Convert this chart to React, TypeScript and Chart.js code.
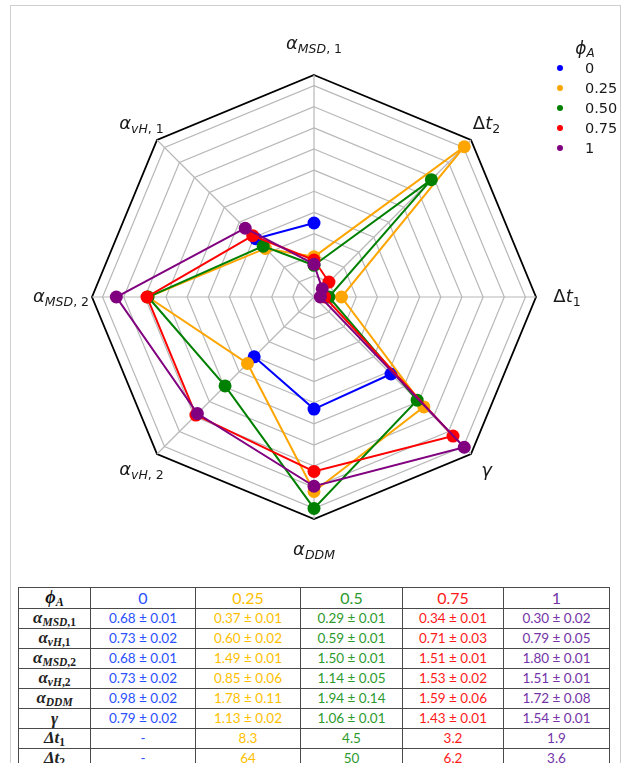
import React, { useEffect, useRef, useState } from 'react';
import { Chart, registerables } from 'chart.js';

Chart.register(...registerables);

// Radar axes in clockwise order starting at the top
const axisLabels = ['α_MSD, 1', 'Δt_2', 'Δt_1', 'γ', 'α_DDM', 'α_vH, 2', 'α_MSD, 2', 'α_vH, 1'];

// Legend / series
const seriesNames = ['0', '0.25', '0.50', '0.75', '1'];
const seriesColors = ['#0000ff', '#ffa500', '#008000', '#ff0000', '#800080'];

// Plotted (normalised) values read from the radar, one per axis above
const phi000 = [0.70, null, null, 1.03, 1.06, 0.80, null, 0.78];
const phi025 = [0.38, 2.01, 0.26, 1.47, 1.84, 0.89, 1.57, 0.65];
const phi050 = [0.30, 1.57, 0.14, 1.38, 2.00, 1.19, 1.57, 0.68];
const phi075 = [0.35, 0.20, 0.10, 1.86, 1.65, 1.58, 1.58, 0.82];
const phi100 = [0.31, 0.11, 0.06, 2.01, 1.79, 1.56, 1.87, 0.92];
const seriesValues = [phi000, phi025, phi050, phi075, phi100];

// Radial rings
const ringValues = [0, 0.2, 0.4, 0.6, 0.8, 1.0, 1.2, 1.4, 1.6, 1.8, 2.0, 2.1];
const radialMax = 2.1;

// Table
const tableHeadLabel = 'ϕ_A';
const tableHeads = ['0', '0.25', '0.5', '0.75', '1'];
const tableRowLabels = ['α_MSD,1', 'α_vH,1', 'α_MSD,2', 'α_vH,2', 'α_DDM', 'γ', 'Δt_1', 'Δt_2'];
const tableCol0 = ['0.68 ± 0.01', '0.73 ± 0.02', '0.68 ± 0.01', '0.73 ± 0.02', '0.98 ± 0.02', '0.79 ± 0.02', '-', '-'];
const tableCol025 = ['0.37 ± 0.01', '0.60 ± 0.02', '1.49 ± 0.01', '0.85 ± 0.06', '1.78 ± 0.11', '1.13 ± 0.02', '8.3', '64'];
const tableCol050 = ['0.29 ± 0.01', '0.59 ± 0.01', '1.50 ± 0.01', '1.14 ± 0.05', '1.94 ± 0.14', '1.06 ± 0.01', '4.5', '50'];
const tableCol075 = ['0.34 ± 0.01', '0.71 ± 0.03', '1.51 ± 0.01', '1.53 ± 0.02', '1.59 ± 0.06', '1.43 ± 0.01', '3.2', '6.2'];
const tableCol100 = ['0.30 ± 0.02', '0.79 ± 0.05', '1.80 ± 0.01', '1.51 ± 0.01', '1.72 ± 0.08', '1.54 ± 0.01', '1.9', '3.6'];
const tableCols = [tableCol0, tableCol025, tableCol050, tableCol075, tableCol100];
const tableColors = ['#2a50ff', '#ffbf00', '#2e9a2e', '#ff1a1a', '#7434a8'];

function MathText({
  text,
  subSize,
  subShift,
  italicTest,
}: {
  text: string;
  subSize: string;
  subShift: string;
  italicTest: (ch: string) => boolean;
}) {
  const [base, sub] = text.split('_');
  const renderChars = (s: string, keyPrefix: string) => {
    const out: React.ReactNode[] = [];
    let buf = '';
    let bufIt: boolean | null = null;
    let k = 0;
    const flush = () => {
      if (buf) {
        out.push(
          <span key={keyPrefix + k++} style={{ fontStyle: bufIt ? 'italic' : 'normal' }}>
            {buf}
          </span>
        );
      }
      buf = '';
    };
    for (const ch of s) {
      const it = italicTest(ch);
      if (bufIt !== null && it !== bufIt) flush();
      bufIt = it;
      buf += ch;
    }
    flush();
    return out;
  };
  return (
    <span>
      {renderChars(base, 'b')}
      {sub !== undefined && (
        <span style={{ fontSize: subSize, position: 'relative', top: subShift }}>{renderChars(sub, 's')}</span>
      )}
    </span>
  );
}

const axisItalic = (ch: string) => /[a-zA-Zα-ωϕ]/.test(ch);
const tableItalic = (ch: string) => /[a-zA-Zα-ωϕΔ]/.test(ch);

export default function App() {
  const canvasRef = useRef<HTMLCanvasElement | null>(null);
  const [labelPos, setLabelPos] = useState<{ x: number; y: number }[]>([]);

  useEffect(() => {
    const canvas = canvasRef.current;
    if (!canvas) return;
    const chart = new Chart(canvas, {
      type: 'radar',
      data: {
        labels: axisLabels,
        datasets: seriesValues.map((vals, i) => ({
          label: seriesNames[i],
          data: vals as any,
          borderColor: seriesColors[i],
          backgroundColor: seriesColors[i],
          pointBackgroundColor: seriesColors[i],
          pointBorderColor: seriesColors[i],
          pointBorderWidth: 0,
          pointRadius: 6.5,
          pointHoverRadius: 6.5,
          borderWidth: 2,
          fill: false,
          spanGaps: false,
          tension: 0,
          order: seriesValues.length - i,
        })),
      },
      options: {
        responsive: false,
        animation: false,
        events: [],
        layout: { padding: { left: 92, right: 87, top: 75, bottom: 60 } },
        plugins: { legend: { display: false }, tooltip: { enabled: false } },
        scales: {
          r: {
            min: 0,
            max: radialMax,
            ticks: { display: false },
            afterBuildTicks: (scale: any) => {
              scale.ticks = ringValues.map((v) => ({ value: v }));
            },
            grid: {
              circular: false,
              color: (c: any) => (c.tick && c.tick.value >= radialMax ? '#000000' : '#b8b8b8'),
              lineWidth: (c: any) => (c.tick && c.tick.value >= radialMax ? 1.8 : 1.2),
            },
            angleLines: { color: '#b8b8b8', lineWidth: 1.2 },
            pointLabels: { display: false },
          } as any,
        },
      },
    });
    const r: any = chart.scales.r;
    setLabelPos(
      axisLabels.map((_, i) => {
        const p = r.getPointPosition(i, r.drawingArea + (i % 2 === 1 ? 22 : 31));
        return { x: p.x, y: p.y };
      })
    );
    return () => chart.destroy();
  }, []);

  const colWidths = [72, 105, 105, 102, 101, 106];
  const cellBorder = '1px solid #4a4a4a';

  return (
    <div style={{ position: 'relative', width: 624, height: 763, overflow: 'hidden', background: '#fff' }}>
      <style>{'html,body{margin:0;padding:0;overflow:hidden;background:#fff}'}</style>
      <div
        style={{
          position: 'absolute',
          left: 10,
          top: 5,
          width: 609,
          height: 800,
          border: '1px solid #cfcfcf',
          borderBottom: 'none',
        }}
      />
      <canvas
        ref={canvasRef}
        width={624}
        height={580}
        style={{ position: 'absolute', left: 0, top: 0, width: 624, height: 580 }}
      />

      {labelPos.map((p, i) => (
        <div
          key={i}
          style={{
            position: 'absolute',
            left: p.x,
            top: p.y,
            transform: 'translate(-50%, -50%)',
            whiteSpace: 'nowrap',
            fontFamily: '"DejaVu Sans", sans-serif',
            fontSize: 18,
            lineHeight: '22px',
            color: '#1a1a1a',
          }}
        >
          <MathText text={axisLabels[i]} subSize="12.5px" subShift="4px" italicTest={axisItalic} />
        </div>
      ))}

      {/* Legend */}
      <div
        style={{
          position: 'absolute',
          left: 585,
          top: 49,
          transform: 'translate(-50%, -50%)',
          fontFamily: '"DejaVu Sans", sans-serif',
          fontSize: 17,
          lineHeight: '20px',
          color: '#1a1a1a',
          whiteSpace: 'nowrap',
        }}
      >
        <MathText text="ϕ_A" subSize="12px" subShift="3px" italicTest={axisItalic} />
      </div>
      {seriesNames.map((n, i) => (
        <div
          key={n}
          style={{ position: 'absolute', left: 557, top: 68 + i * 20 - 10, height: 20, display: 'flex', alignItems: 'center' }}
        >
          <div style={{ width: 6, height: 6, borderRadius: 3, background: seriesColors[i], marginRight: 22 }} />
          <span style={{ fontFamily: '"DejaVu Sans", sans-serif', fontSize: 14.5, color: '#1a1a1a' }}>{n}</span>
        </div>
      ))}

      {/* Table */}
      <table
        style={{
          position: 'absolute',
          left: 18,
          top: 587,
          width: 591,
          borderCollapse: 'collapse',
          tableLayout: 'fixed',
          fontFamily: 'Lato, "Open Sans", sans-serif',
        }}
      >
        <colgroup>
          {colWidths.map((w, i) => (
            <col key={i} style={{ width: w }} />
          ))}
        </colgroup>
        <tbody>
          <tr style={{ height: 21 }}>
            <td
              style={{
                border: cellBorder,
                textAlign: 'center',
                padding: 0,
                fontFamily: '"Liberation Serif", serif',
                fontSize: 18,
                fontWeight: 'bold',
                color: '#111',
                lineHeight: '18px',
              }}
            >
              <MathText text={tableHeadLabel} subSize="12px" subShift="3px" italicTest={tableItalic} />
            </td>
            {tableHeads.map((h, i) => (
              <td
                key={h}
                style={{ border: cellBorder, textAlign: 'center', padding: 0, fontSize: 16, color: tableColors[i], lineHeight: '18px' }}
              >
                {h}
              </td>
            ))}
          </tr>
          {tableRowLabels.map((lab, r) => (
            <tr key={lab} style={{ height: 19.8 }}>
              <td
                style={{
                  border: cellBorder,
                  textAlign: 'center',
                  padding: 0,
                  fontFamily: '"Liberation Serif", serif',
                  fontSize: 17,
                  fontWeight: 'bold',
                  color: '#222',
                  lineHeight: '17px',
                }}
              >
                <MathText text={lab} subSize="11.5px" subShift="3px" italicTest={tableItalic} />
              </td>
              {tableCols.map((col, c) => (
                <td
                  key={c}
                  style={{ border: cellBorder, textAlign: 'center', padding: 0, fontSize: 13.5, color: tableColors[c], lineHeight: '17px' }}
                >
                  {col[r]}
                </td>
              ))}
            </tr>
          ))}
        </tbody>
      </table>
    </div>
  );
}
